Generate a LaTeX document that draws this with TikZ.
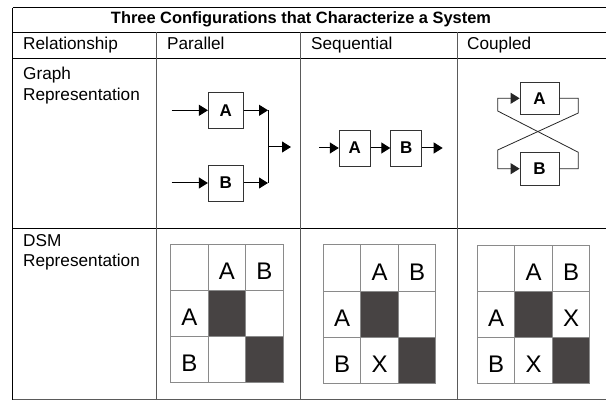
\documentclass[tikz,border=0pt]{standalone}
\usepackage{fontspec}
\setmainfont{Liberation Sans}
\usetikzlibrary{arrows.meta}
\definecolor{cellfill}{HTML}{474343}
\definecolor{gridgray}{HTML}{8A8A8A}
\definecolor{rulegray}{HTML}{5A5A5A}
\tikzset{
  rule/.style={line width=1pt, black},
  vrule/.style={line width=1pt, rulegray},
  hdr/.style={anchor=base west, inner sep=0pt, font=\fontsize{17.2}{20}\selectfont},
  ttl/.style={anchor=base, inner sep=0pt, font=\bfseries\fontsize{16.4}{19}\selectfont},
  blk/.style={draw=black!80, line width=0.8pt, minimum width=35pt, minimum height=36pt, inner sep=0pt, font=\bfseries\fontsize{17}{19}\selectfont},
  arr/.style={line width=1pt, -{Triangle[length=9pt,width=11pt]}},
  ln/.style={line width=1pt},
  carr/.style={line width=0.8pt, black!85, -{Triangle[length=9pt,width=11pt]}},
  gridln/.style={draw=gridgray, line width=1pt},
  dark/.style={fill=cellfill},
  dsmtxt/.style={inner sep=0pt, font=\fontsize{24}{26}\selectfont},
}
\newcommand\dsmgridlines{%
  \foreach \gx in {0,37.5,75,112.5} {\draw[gridln] (\gx,0) -- (\gx,138.3);}
  \foreach \gy in {0,46.1,92.2,138.3} {\draw[gridln] (0,\gy) -- (112.5,\gy);}
}
\begin{document}
\begin{tikzpicture}[x=1pt, y=-1pt]
\useasboundingbox[fill=white] (0,0) rectangle (606,401);

% table rules
\draw[rule] (12.7,8) -- (606,8);
\draw[rule] (12.7,32.5) -- (606,32.5);
\draw[rule] (12.7,58.5) -- (606,58.5);
\draw[rule] (12.7,228.5) -- (606,228.5);
\draw[vrule] (12.7,399.5) -- (606,399.5);
\draw[rule] (12.7,8) -- (12.7,399.5);
\draw[vrule] (156,32.5) -- (156,399.5);
\draw[vrule] (300.7,32.5) -- (300.7,399.5);
\draw[vrule] (457,32.5) -- (457,399.5);

% texts
\node[ttl] (title) at (301,23.3) {Three Configurations that Characterize a System};
\node[hdr] (hrel) at (23,50) {Relationship};
\node[hdr] (hpar) at (167,50) {Parallel};
\node[hdr] (hseq) at (311,50) {Sequential};
\node[hdr] (hcou) at (467,50) {Coupled};
\node[hdr] (g1) at (23,80) {Graph};
\node[hdr] (g2) at (23,100.5) {Representation};
\node[hdr] (d1) at (23,246.5) {DSM};
\node[hdr] (d2) at (23,267) {Representation};

% parallel graph
\node[blk] (pA) at (225.8,110.3) {A};
\node[blk] (pB) at (225.8,183) {B};
\coordinate (pinA) at (171.7,110.3);
\coordinate (pinB) at (171.7,183);
\coordinate (pjA) at (268,110.3);
\coordinate (pjB) at (268,183);
\coordinate (pjM) at (268,147);
\coordinate (pout) at (291,147);
\draw[arr] (pinA) -- (pA.west);
\draw[arr] (pinB) -- (pB.west);
\draw[arr] (pA.east) -- (pjA);
\draw[arr] (pB.east) -- (pjB);
\draw[ln] (pjA) -- (pjB);
\draw[arr] (pjM) -- (pout);

% sequential graph
\node[blk, minimum width=31pt] (sA) at (354.7,148) {A};
\node[blk, minimum width=31pt] (sB) at (406.2,148) {B};
\coordinate (sin) at (319,148);
\coordinate (sout) at (442.7,148);
\draw[arr] (sin) -- (sA.west);
\draw[arr] (sA.east) -- (sB.west);
\draw[arr] (sB.east) -- (sout);

% coupled graph
\node[blk, minimum width=39pt, minimum height=32pt] (cA) at (539.5,98.3) {A};
\node[blk, minimum width=39pt, minimum height=33pt] (cB) at (539.5,168.7) {B};
\coordinate (c1) at (578.3,113);
\coordinate (c2) at (497.7,150);
\coordinate (c3) at (578.3,152.3);
\coordinate (c4) at (497.7,111);
\draw[carr] (cA.east) -| (c1) -- (c2) |- (cB.west);
\draw[carr] (cB.east) -| (c3) -- (c4) |- (cA.west);

% DSM parallel
\begin{scope}[shift={(170.7,244.5)}]
  \fill[dark] (37.5,46.1) rectangle (75,92.2);
  \fill[dark] (75,92.2) rectangle (112.5,138.3);
  \dsmgridlines
  \node[dsmtxt] (pcA) at (56.25,27) {A};
  \node[dsmtxt] (pcB) at (93.75,27) {B};
  \node[dsmtxt] (prA) at (18.75,73) {A};
  \node[dsmtxt] (prB) at (18.75,119.2) {B};
\end{scope}

% DSM sequential
\begin{scope}[shift={(323.3,245)}]
  \fill[dark] (37.5,46.1) rectangle (75,92.2);
  \fill[dark] (75,92.2) rectangle (112.5,138.3);
  \dsmgridlines
  \node[dsmtxt] (scA) at (56.25,27) {A};
  \node[dsmtxt] (scB) at (93.75,27) {B};
  \node[dsmtxt] (srA) at (18.75,73) {A};
  \node[dsmtxt] (srB) at (18.75,119.2) {B};
  \node[dsmtxt] (sx1) at (56.25,119.2) {X};
\end{scope}

% DSM coupled
\begin{scope}[shift={(477.3,245.5)}]
  \fill[dark] (37.5,46.1) rectangle (75,92.2);
  \fill[dark] (75,92.2) rectangle (112.5,138.3);
  \dsmgridlines
  \node[dsmtxt] (ccA) at (56.25,27) {A};
  \node[dsmtxt] (ccB) at (93.75,27) {B};
  \node[dsmtxt] (crA) at (18.75,73) {A};
  \node[dsmtxt] (crB) at (18.75,119.2) {B};
  \node[dsmtxt] (cx1) at (93.75,73) {X};
  \node[dsmtxt] (cx2) at (56.25,119.2) {X};
\end{scope}
\end{tikzpicture}
\end{document}
